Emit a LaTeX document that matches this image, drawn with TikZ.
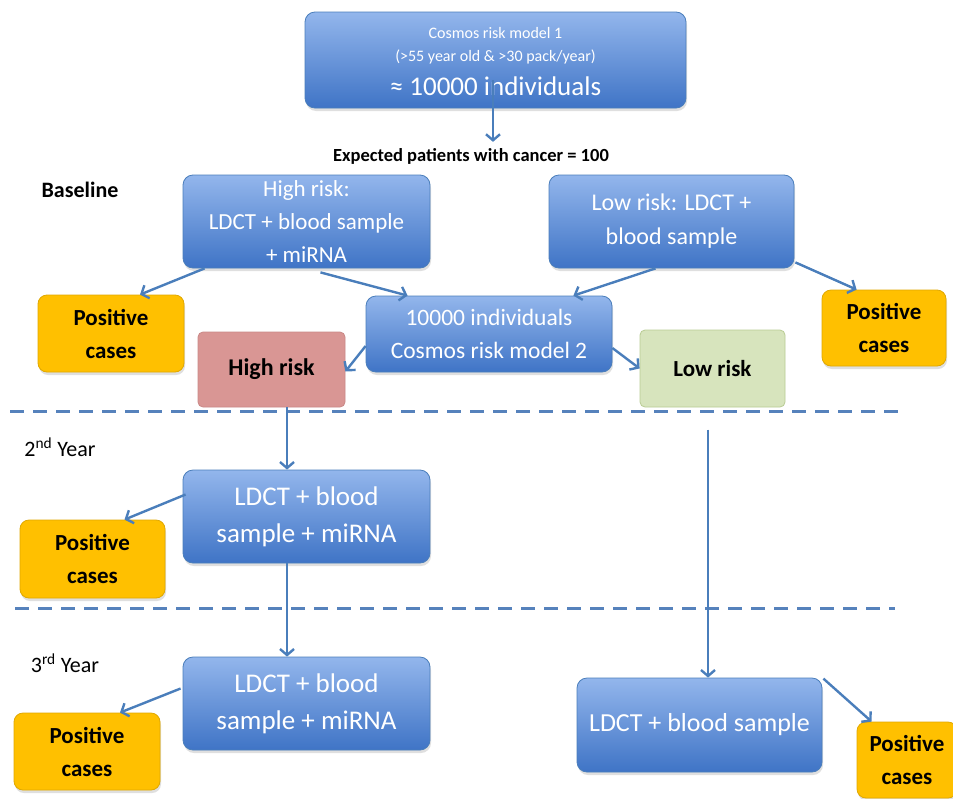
\documentclass[tikz,border=0pt]{standalone}
\usepackage{fontspec}
\setmainfont{Carlito}
\usetikzlibrary{calc,arrows.meta,shadows}
\definecolor{bluetop}{HTML}{93B6EC}
\definecolor{bluebot}{HTML}{3F74C6}
\definecolor{blueline}{HTML}{4A7EBB}
\definecolor{arrowc}{HTML}{4A7EBB}
\definecolor{orangef}{HTML}{FFC000}
\definecolor{oranged}{HTML}{E0A800}
\definecolor{pinkf}{HTML}{D99694}
\definecolor{pinkd}{HTML}{C98886}
\definecolor{greenf}{HTML}{D7E4BD}
\definecolor{greend}{HTML}{B9CC94}
\definecolor{dashc}{HTML}{5682BC}
\tikzset{
  bluebox/.style={draw=blueline, line width=0.8pt, rounded corners=10pt, top color=bluetop, bottom color=bluebot,
    text=white, align=center, inner sep=0pt, drop shadow={opacity=0.25, shadow xshift=1pt, shadow yshift=-3pt}},
  posbox/.style={draw=oranged, line width=0.8pt, fill=orangef, rounded corners=9pt, align=center, inner sep=0pt,
    font=\fontsize{23}{33}\selectfont\bfseries, drop shadow={opacity=0.25, shadow xshift=1pt, shadow yshift=-3pt}},
  pinkbox/.style={draw=pinkd, line width=0.8pt, fill=pinkf, rounded corners=5pt, align=center, inner sep=0pt,
    font=\fontsize{24}{30}\selectfont\bfseries},
  greenbox/.style={draw=greend, line width=0.8pt, fill=greenf, rounded corners=5pt, align=center, inner sep=0pt,
    font=\fontsize{23}{30}\selectfont\bfseries},
  conn/.style={draw=arrowc, line width=2.4pt, -{Straight Barb[length=6pt,width=14pt]}},
  sep/.style={draw=dashc, line width=3pt, dash pattern=on 14pt off 9pt},
  lbl/.style={inner sep=0pt, anchor=center}
}
\begin{document}
\begin{tikzpicture}[x=1pt,y=-1pt]
\useasboundingbox (0,0) rectangle (953,798);
\fill[white] (0,0) rectangle (953,798);

% separators
\draw[sep] (10,411) -- (905,411);
\draw[sep] (15,608) -- (895,608);

% top box
\node[bluebox, minimum width=381pt, minimum height=96pt] (top) at (495.5,60) {};
\node[lbl, text=white] (t1) at (495.5,33) {\fontsize{16}{18}\selectfont Cosmos risk model 1};
\node[lbl, text=white] (t2) at (495.5,57) {\fontsize{16}{18}\selectfont (>55 year old \& >30 pack/year)};
\node[lbl, text=white] (t3) at (495.5,86) {\fontsize{27}{30}\selectfont ≈ 10000 individuals};

\node[lbl, font=\fontsize{18.5}{20}\selectfont\bfseries] (exp) at (471,156) {Expected patients with cancer = 100};

\node[lbl, font=\fontsize{22}{24}\selectfont\bfseries] (base) at (80,190) {Baseline};
\node[lbl, font=\fontsize{22}{24}\selectfont] (y2) at (60,447) {2\textsuperscript{nd} Year};
\node[lbl, font=\fontsize{22}{24}\selectfont] (y3) at (65,663) {3\textsuperscript{rd} Year};

% baseline boxes
\node[bluebox, minimum width=247pt, minimum height=93pt, font=\fontsize{23}{33}\selectfont] (hr) at (306.5,221.5)
  {High risk:\\LDCT + blood sample\\+ miRNA};
\node[bluebox, minimum width=245pt, minimum height=93pt, font=\fontsize{24}{34}\selectfont] (lr) at (671.5,221.5)
  {Low risk: LDCT +\\blood sample};
\node[posbox, minimum width=146pt, minimum height=77pt] (p1) at (111,333.5) {Positive\\cases};
\node[posbox, minimum width=124pt, minimum height=76pt] (pr1) at (884,328) {Positive\\cases};
\node[bluebox, minimum width=246pt, minimum height=76pt, font=\fontsize{23.5}{33}\selectfont] (mid) at (489,334)
  {10000 individuals\\Cosmos risk model 2};
\node[pinkbox, minimum width=147pt, minimum height=75pt] (hrp) at (271.5,369.5) {High risk};
\node[greenbox, minimum width=145pt, minimum height=77pt] (lrg) at (712.5,368.5) {Low risk};

% year 2
\node[bluebox, minimum width=247pt, minimum height=93pt, font=\fontsize{27}{37}\selectfont] (b2) at (306.5,516.5)
  {LDCT + blood\\sample + miRNA};
\node[posbox, minimum width=145pt, minimum height=78pt] (p2) at (92.5,559) {Positive\\cases};

% year 3
\node[bluebox, minimum width=247pt, minimum height=93pt, font=\fontsize{27}{37}\selectfont] (b3) at (306.5,703.5)
  {LDCT + blood\\sample + miRNA};
\node[posbox, minimum width=146pt, minimum height=77pt] (p3) at (87,751.5) {Positive\\cases};
\node[bluebox, minimum width=245pt, minimum height=94pt, font=\fontsize{26}{30}\selectfont] (b4) at (699.5,725)
  {LDCT + blood sample};
\node[posbox, minimum width=100pt, minimum height=76pt, text width=96pt] (p4) at (907,760) {Positive\\cases};

% connectors
\coordinate (a0) at ($(top.south)+(-2.5,-28)$);
\draw[conn] (a0) -- ($(exp.north -| a0)+(0,-6)$);
\draw[conn] ($(hr.south west)+(22,0)$) -- ($(p1.north)+(29,0)$);
\draw[conn] ($(hr.south)+(14,4)$) -- ($(mid.north west)+(42,0)$);
\draw[conn] ($(lr.south)+(-16,0)$) -- ($(mid.north east)+(-39,0)$);
\draw[conn] ($(lr.south east)+(1,-6)$) -- ($(pr1.north west)+(35,0)$);
\draw[conn] ($(mid.west)+(0,12)$) -- ($(hrp.east)+(0,2)$);
\draw[conn] ($(mid.east)+(0,14)$) -- (lrg.west);
\coordinate (v2) at ($(b2.north)+(-19.5,0)$);
\draw[conn] (hrp.south -| v2) -- (v2);
\draw[conn] ($(b2.west)+(3,-22)$) -- ($(p2.north)+(32,0)$);
\coordinate (v3) at ($(b3.north)+(-19.5,0)$);
\draw[conn] (b2.south -| v3) -- (v3);
\draw[conn] ($(b3.west)+(-2,-15)$) -- ($(p3.north)+(33,0)$);
\coordinate (v4) at ($(b4.north)+(8.5,-248)$);
\draw[conn] (v4) -- (b4.north -| v4);
\draw[conn] ($(b4.north east)+(1,1)$) -- ($(p4.north west)+(15,0)$);
\end{tikzpicture}
\end{document}
